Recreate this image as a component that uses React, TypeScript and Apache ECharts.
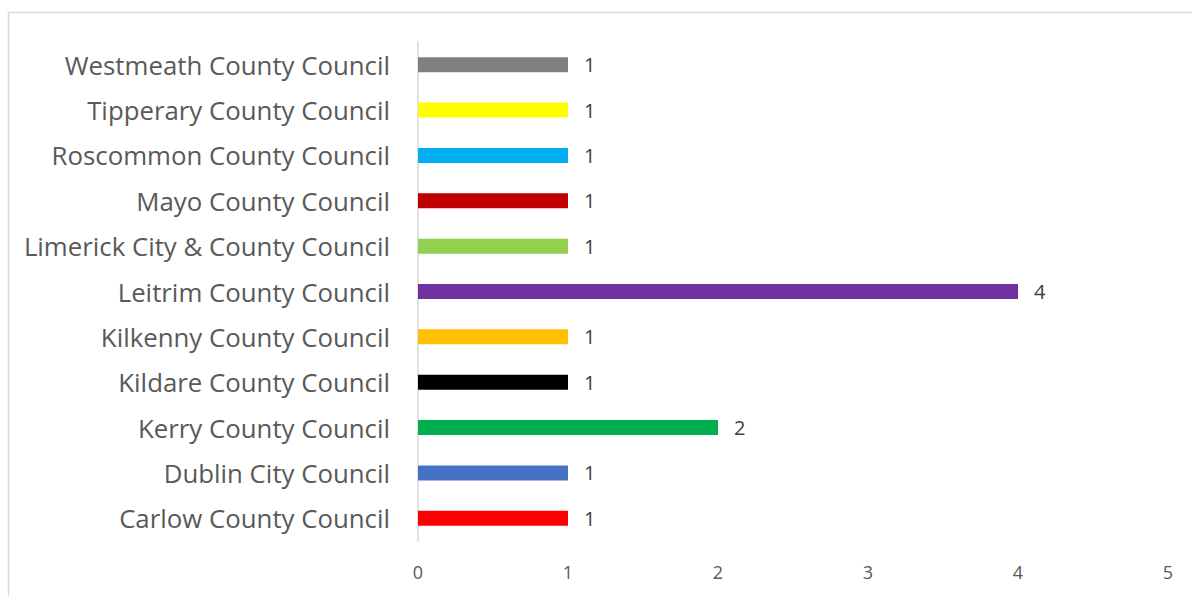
import React, { useEffect, useRef } from "react";
import * as echarts from "echarts";

const categories = [
  "Carlow County Council",
  "Dublin City Council",
  "Kerry County Council",
  "Kildare County Council",
  "Kilkenny County Council",
  "Leitrim County Council",
  "Limerick City & County Council",
  "Mayo County Council",
  "Roscommon County Council",
  "Tipperary County Council",
  "Westmeath County Council",
];
const values = [1, 1, 2, 1, 1, 4, 1, 1, 1, 1, 1];
const colors = [
  "#FF0000",
  "#4472C4",
  "#00B050",
  "#000000",
  "#FFC000",
  "#7030A0",
  "#92D050",
  "#C00000",
  "#00B0F0",
  "#FFFF00",
  "#7F7F7F",
];
const xTicks = [0, 1, 2, 3, 4, 5];

const FONT = "Open Sans";

export default function App() {
  const ref = useRef<HTMLDivElement>(null);
  useEffect(() => {
    const chart = echarts.init(ref.current!, undefined, { renderer: "svg" });
    chart.setOption({
      animation: false,
      textStyle: { fontFamily: FONT },
      graphic: [
        {
          type: "rect",
          shape: { x: 8.5, y: 12.5, width: 1300, height: 700 },
          style: { fill: "none", stroke: "#D9D9D9", lineWidth: 1.5 },
          silent: true,
        },
      ],
      grid: { left: 418, top: 42, width: 750, height: 499, containLabel: false },
      xAxis: {
        type: "value",
        min: xTicks[0],
        max: xTicks[xTicks.length - 1],
        interval: 1,
        splitLine: { show: false },
        axisLine: { show: false },
        axisTick: { show: false },
        axisLabel: { color: "#595959", fontSize: 18, margin: 22, fontFamily: FONT },
      },
      yAxis: {
        type: "category",
        data: categories,
        axisLine: { show: true, lineStyle: { color: "#D9D9D9", width: 1.5 } },
        axisTick: { show: false },
        axisLabel: {
          color: "#595959",
          fontSize: 25.8,
          margin: 28,
          fontFamily: FONT,
          padding: [0, 0, 2, 0],
        },
      },
      series: [
        {
          type: "bar",
          barWidth: 15,
          data: values.map((v, i) => ({ value: v, itemStyle: { color: colors[i] } })),
          label: {
            show: true,
            position: "right",
            distance: 16,
            color: "#404040",
            fontSize: 20,
            fontFamily: FONT,
          },
        },
      ],
    });
    return () => chart.dispose();
  }, []);
  return (
    <div
      ref={ref}
      style={{ position: "fixed", left: 0, top: 0, width: 1192, height: 596, background: "#fff" }}
    />
  );
}
